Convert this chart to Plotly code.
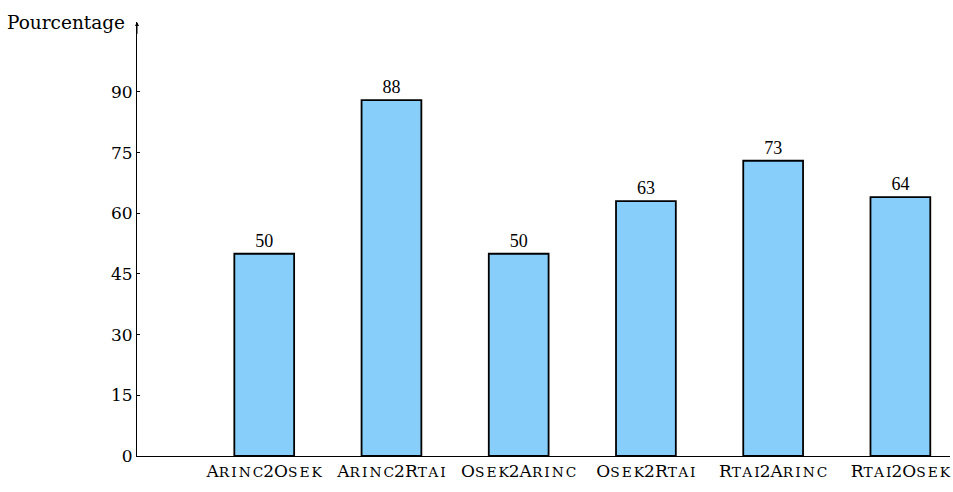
import plotly.graph_objects as go

categories = ["Arinc2Osek", "Arinc2Rtai", "Osek2Arinc", "Osek2Rtai", "Rtai2Arinc", "Rtai2Osek"]
values = [50, 88, 50, 63, 73, 64]
positions = [1, 2, 3, 4, 5, 6]
y_ticks = [0, 15, 30, 45, 60, 75, 90]

FONT = "DejaVu Serif"
SIZE = 17

def small_caps(s, small=13.8):
    out = ""
    buf = ""
    for ch in s + "\0":
        if ch.islower():
            buf += ch.upper()
        else:
            if buf:
                out += (f"<span style='font-size:{small}px;letter-spacing:2px'>{buf[:-1]}</span>"
                        f"<span style='font-size:{small}px'>{buf[-1]}</span>")
                buf = ""
            if ch != "\0":
                out += ch
    return out

ticktext = [small_caps(c) for c in categories]

fig = go.Figure()
fig.add_trace(go.Bar(
    x=positions, y=values, width=0.47,
    marker=dict(color="#87CEFA", line=dict(color="black", width=1.8)),
    text=[str(v) for v in values], textposition="outside",
    textfont=dict(family="Liberation Serif", size=18, color="black"),
    cliponaxis=False,
))

fig.update_layout(
    width=953, height=492,
    margin=dict(l=137, r=3, t=22, b=36),
    plot_bgcolor="white", paper_bgcolor="white",
    showlegend=False,
    font=dict(family=FONT, size=SIZE, color="black"),
    xaxis=dict(range=[0, 6.39], tickvals=positions, ticktext=ticktext,
               showline=True, linecolor="black", linewidth=1, showgrid=False,
               zeroline=False, ticks="", tickfont=dict(family=FONT, size=SIZE)),
    yaxis=dict(range=[0, 107.3], tickvals=y_ticks, showline=True, linecolor="black",
               linewidth=1, showgrid=False, zeroline=False, ticks="inside", ticklen=3,
               tickcolor="black", tickfont=dict(family=FONT, size=SIZE)),
)

fig.add_annotation(x=0, y=107.3, xref="x", yref="y", ax=0, ay=104, axref="x", ayref="y",
                   showarrow=True, arrowhead=2, arrowsize=0.8, arrowwidth=1, arrowcolor="black", text="")
fig.add_annotation(x=0, y=1, xref="paper", yref="paper", xanchor="right", yanchor="middle",
                   xshift=-10, text="Pourcentage", showarrow=False,
                   font=dict(family=FONT, size=18.5, color="black"))

fig.write_html("out.html", config={"displayModeBar": False},
               post_script="document.body.style.margin='0';document.body.style.overflow='hidden';")
